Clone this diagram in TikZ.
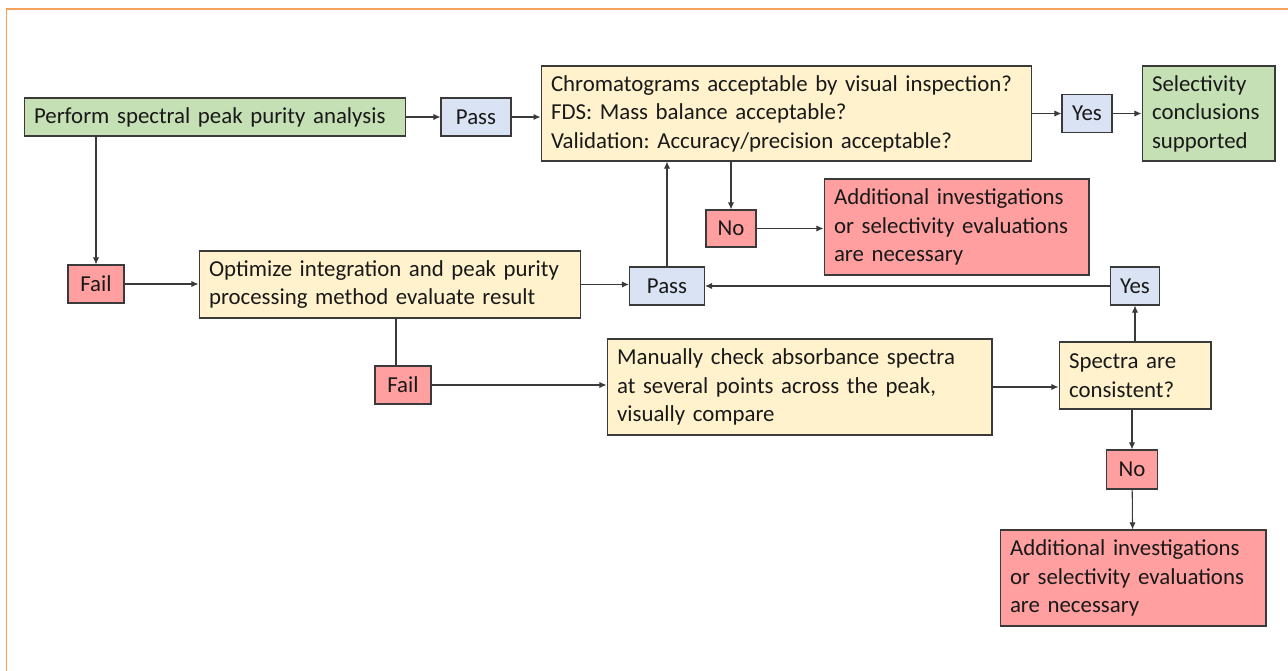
\documentclass[tikz,border=0pt]{standalone}
\usepackage{fontspec}
\setmainfont{Carlito}
\usetikzlibrary{arrows.meta, positioning}
\definecolor{vert}{HTML}{C5E0B4}
\definecolor{bleu}{HTML}{DAE3F3}
\definecolor{jaune}{HTML}{FFF2CC}
\definecolor{rouge}{HTML}{FF9F9F}
\definecolor{cadre}{HTML}{F4A15D}
\definecolor{trait}{HTML}{3A3A3A}
\frenchspacing

\begin{document}
\begin{tikzpicture}[x=0.02cm, y=-0.02cm,
  box/.style={draw=trait, line width=0.6pt, inner xsep=0.2cm, inner ysep=0pt, align=left,
    font=\fontsize{13}{16.2}\selectfont, text=black!90},
  tag/.style={box, inner xsep=0pt, minimum height=0.76cm, align=center},
  fleche/.style={-{Latex[length=4pt, width=3.5pt]}, line width=0.6pt, draw=trait}]
\useasboundingbox (0,0) rectangle (1288,671);
\draw[cadre, line width=0.04cm] (6.5,671) -- (6.5,9) -- (1288,9);

% ligne du haut
\node[box, fill=vert, text width=7.24cm, minimum height=0.76cm] (analyse) at (215,117) {\mbox{Perform spectral peak purity analysis}};
\node[tag, fill=bleu, minimum width=1.4cm] (pass1) at (476,117) {Pass};
\node[box, fill=jaune, text width=9.42cm, minimum height=1.9cm] (chrom) at (786.5,113.5) {\mbox{Chromatograms acceptable by visual inspection?}\\FDS: Mass balance acceptable?\\\mbox{Validation: Accuracy/precision acceptable?}};
\node[tag, fill=bleu, minimum width=1.0cm] (oui1) at (1087,113.5) {Yes};
\node[box, fill=vert, text width=2.26cm, minimum height=1.9cm] (select) at (1208.5,113.5) {Selectivity\\conclusions\\supported};
\node[tag, fill=rouge, minimum width=1.0cm, minimum height=0.74cm] (non1) at (731,228.5) {No};
\node[box, fill=rouge, text width=4.9cm, minimum height=1.92cm] (autres1) at (956.5,227) {\mbox{Additional investigations}\\\mbox{or selectivity evaluations}\\are necessary};

% ligne du milieu
\node[tag, fill=rouge, minimum width=1.12cm] (echec1) at (96,284) {Fail};
\node[box, fill=jaune, text width=7.24cm, minimum height=1.34cm] (optim) at (390,284.5) {\mbox{Optimize integration and peak purity}\\\mbox{processing method evaluate result}};
\node[tag, fill=bleu, minimum width=1.5cm] (pass2) at (667,286) {Pass};
\node[tag, fill=bleu, minimum width=0.98cm] (oui2) at (1135,286) {Yes};

% ligne du bas
\node[tag, fill=rouge, minimum width=1.12cm] (echec2) at (403,385) {Fail};
\node[box, fill=jaune, text width=7.3cm, minimum height=1.92cm] (manuel) at (799.5,387) {\mbox{Manually check absorbance spectra}\\\mbox{at several points across the peak,}\\visually compare};
\node[box, fill=jaune, text width=2.64cm, minimum height=1.34cm] (spectres) at (1135,375.5) {Spectra are\\consistent?};
\node[tag, fill=rouge, minimum width=1.02cm, minimum height=0.78cm] (non2) at (1132,469.5) {No};
\node[box, fill=rouge, text width=4.92cm, minimum height=1.92cm] (autres2) at (1133,578) {\mbox{Additional investigations}\\\mbox{or selectivity evaluations}\\are necessary};

% liaisons
\draw[fleche] (analyse) -- (pass1);
\draw[fleche] (pass1) -- (pass1 -| chrom.west);
\draw[fleche] (chrom) -- (oui1);
\draw[fleche] (oui1) -- (select);
\draw[fleche] (non1 |- chrom.south) -- (non1);
\draw[fleche] (non1) -- (non1 -| autres1.west);
\draw[fleche] (echec1 |- analyse.south) -- (echec1);
\draw[fleche] (echec1) -- (echec1 -| optim.west);
\draw[fleche] (optim.east) -- (optim.east -| pass2.west);
\draw[fleche] (pass2) -- (pass2 |- chrom.south);
\draw[fleche] (oui2) -- (pass2);
\draw[trait, line width=0.6pt] ([xshift=0.12cm]optim.south) -- ([xshift=0.12cm]optim.south |- echec2.north);
\draw[fleche] (echec2) -- (echec2 -| manuel.west);
\draw[fleche] (manuel) -- (manuel -| spectres.west);
\draw[fleche] (spectres) -- (oui2);
\draw[fleche] (non2 |- spectres.south) -- (non2);
\draw[fleche] (non2) -- (autres2);
\end{tikzpicture}
\end{document}
